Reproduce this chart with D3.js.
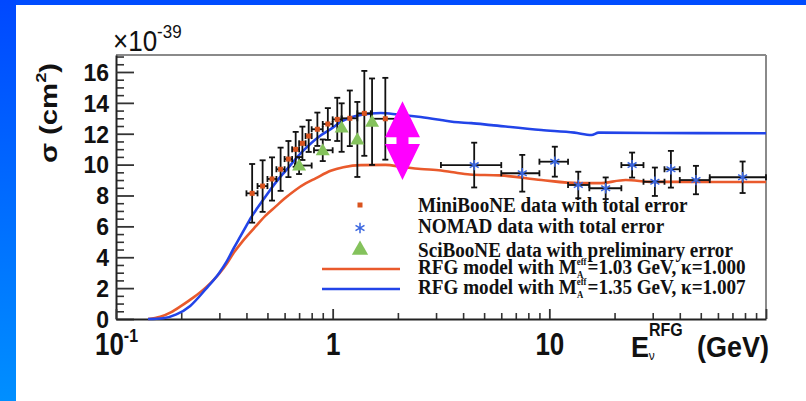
<!DOCTYPE html>
<html><head><meta charset="utf-8">
<script src="https://cdn.jsdelivr.net/npm/d3@7"></script>
<style>
html,body{margin:0;padding:0;background:#fff;}
svg{display:block;}
</style></head><body>
<svg id="chart" width="806" height="401"></svg>
<script>
// ---- MiniBooNE CCQE cross section (x10^-39 cm^2) ----
const miniE     = [0.425,0.475,0.525,0.575,0.625,0.675,0.725,0.775,0.85,0.95,1.05,1.2,1.4,1.75];
const miniLo    = [0.40,0.45,0.50,0.55,0.60,0.65,0.70,0.75,0.80,0.90,1.00,1.10,1.30,1.50];
const miniHi    = [0.45,0.50,0.55,0.60,0.65,0.70,0.75,0.80,0.90,1.00,1.10,1.30,1.50,2.00];
const miniSigma = [8.14,8.61,9.07,9.70,10.36,10.99,11.38,11.85,12.29,12.63,12.93,13.00,13.32,12.97];
const miniErr   = [1.90,1.67,1.40,1.40,1.17,1.13,1.08,1.03,1.08,1.03,1.40,1.80,2.75,2.65];

// ---- NOMAD ----
const nomadE     = [4.5,7.5,10.6,13.6,18.2,24.1,30.7,36.4,47.5,78];
const nomadLo    = [3.16,6.0,9.0,12.2,15.3,21.5,27.2,34.0,40.0,55.0];
const nomadHi    = [6.0,9.0,12.2,15.3,21.5,27.2,34.0,40.0,55.0,100];
const nomadSigma = [9.97,9.44,10.19,8.68,8.47,9.97,8.89,9.70,9.00,9.18];
const nomadErr   = [1.45,1.19,0.97,0.86,0.70,0.81,0.92,1.19,0.92,1.02];

// ---- SciBooNE (preliminary) ----
const sciE     = [0.70,0.90,1.10,1.30,1.52];
const sciLo    = [0.67,0.82,1.10,1.30,1.52];
const sciHi    = [0.80,1.00,1.10,1.30,1.52];
const sciSigma = [9.94,10.93,12.40,11.63,12.78];
const sciErr   = [0.55,0.70,1.57,2.43,2.80];

// ---- RFG model, MA = 1.03 GeV, kappa = 1.000 ----
const rfg103E = [0.1406,0.16,0.18,0.20,0.228,0.26,0.30,0.325,0.35,0.382,0.41,0.44,0.49,0.545,0.60,0.674,0.75,0.834,0.979,1.12,1.35,1.75,2.1,2.55,3.16,3.6,4.3,5.9,9.2,13.6,17,22.5,30,45,70,100];
const rfg103S = [0,0.15,0.45,0.85,1.40,2.05,2.95,3.60,4.30,5.00,5.50,5.98,6.70,7.28,7.80,8.36,8.78,9.11,9.60,9.83,9.97,9.98,9.85,9.72,9.62,9.50,9.36,9.30,9.00,8.80,8.80,9.00,8.88,8.88,8.87,8.87];

// ---- RFG model, MA = 1.35 GeV, kappa = 1.007 ----
const rfg135E = [0.1406,0.165,0.19,0.22,0.26,0.30,0.325,0.35,0.375,0.40,0.417,0.45,0.505,0.55,0.606,0.724,0.864,0.979,1.1,1.348,1.67,1.99,2.55,3.16,3.63,4.36,5.39,9.18,13.06,15.65,16.9,30,100];
const rfg135S = [0,0.05,0.30,0.85,1.95,3.00,3.75,4.60,5.35,6.05,6.50,7.20,8.20,8.90,9.59,10.84,11.81,12.30,12.80,13.21,13.34,13.25,13.08,12.89,12.76,12.69,12.56,12.24,12.07,11.92,12.07,12.05,12.03];

// ---- axis ticks ----
const xMajor = [0.1,1,10,100];
const xLabels = ["10", "1", "10"];
const yMajor = [0,2,4,6,8,10,12,14,16];

// ---- magenta arrow: gap between the two models near the peak ----
const arrowE = 2.1, arrowTop = 14.1, arrowBottom = 9.0;

const svg = d3.select("#chart");
const W = 806, H = 401;
const sans = "Liberation Sans, Arial, sans-serif";

// slide background
const defs = svg.append("defs");
const grad = defs.append("linearGradient").attr("id","side").attr("x1",0).attr("y1",0).attr("x2",0).attr("y2",1);
grad.append("stop").attr("offset","0%").attr("stop-color","#0048ff");
grad.append("stop").attr("offset","100%").attr("stop-color","#008fff");
svg.append("rect").attr("width",W).attr("height",H).attr("fill","#fff");
svg.append("rect").attr("x",0).attr("y",0).attr("width",W).attr("height",5).attr("fill","#004cff");
svg.append("rect").attr("x",0).attr("y",0).attr("width",16).attr("height",H).attr("fill","url(#side)");

const x = d3.scaleLog().domain([0.1,100]).range([116,766]);
const y = d3.scaleLinear().domain([0,17.1]).range([319,55]);

// frame
svg.append("line").attr("x1",116).attr("x2",766).attr("y1",55).attr("y2",55).attr("stroke","#8a8a8a").attr("stroke-width",2);
svg.append("line").attr("x1",766).attr("x2",766).attr("y1",55).attr("y2",319).attr("stroke","#8a8a8a").attr("stroke-width",2);

// minor ticks
const yMinor = d3.range(0,17.01,0.5).filter(v => v % 2 !== 0);
svg.append("g").attr("transform","translate(116,0)")
  .call(d3.axisLeft(y).tickValues(yMinor).tickSize(-8).tickFormat(""))
  .call(g => g.select(".domain").remove())
  .selectAll("line").attr("stroke","#333").attr("stroke-width",1.6);
const xMinor = [];
[0.1,1,10].forEach(d => { for (let k=2;k<=9;k++) xMinor.push(d*k); });
svg.append("g").attr("transform","translate(0,319)")
  .call(d3.axisBottom(x).tickValues(xMinor).tickSize(-6).tickFormat(""))
  .call(g => g.select(".domain").remove())
  .selectAll("line").attr("stroke","#333").attr("stroke-width",1.6);

// major y axis
const gy = svg.append("g").attr("transform","translate(116,0)")
  .call(d3.axisLeft(y).tickValues(yMajor).tickSizeInner(-18).tickSizeOuter(0).tickPadding(7).tickFormat(d3.format("d")));
gy.select(".domain").attr("stroke","#222").attr("stroke-width",2);
gy.selectAll("line").attr("stroke","#333").attr("stroke-width",1.8);
gy.selectAll("text").attr("font-family",sans).attr("font-size",23).attr("font-weight","bold").attr("fill","#111").attr("dy","0.36em");

// major x axis
const gx = svg.append("g").attr("transform","translate(0,319)")
  .call(d3.axisBottom(x).tickValues(xMajor).tickSizeInner(-10).tickSizeOuter(0).tickPadding(12)
        .tickFormat((d,i) => i < xLabels.length ? xLabels[i] : ""));
gx.select(".domain").attr("stroke","#222").attr("stroke-width",2);
gx.selectAll("line").attr("stroke","#333").attr("stroke-width",1.8);
gx.selectAll("text").attr("font-family",sans).attr("font-size",26).attr("font-weight","bold").attr("fill","#111")
  .attr("transform","scale(1,1.18)");
gx.selectAll(".tick").filter(d => d === 0.1).select("text")
  .append("tspan").attr("font-size",16).attr("dy","-0.7em").text("-1");

// axis titles
const ttl = svg.append("g").attr("font-family",sans).attr("fill","#111");
const yt = ttl.append("text").attr("transform","translate(57,113) rotate(-90) scale(1.22,1)").attr("text-anchor","middle")
  .attr("font-size",24).attr("font-weight","bold");
yt.append("tspan").text("σ (cm");
yt.append("tspan").attr("font-size",15).attr("dy","-0.75em").text("2");
yt.append("tspan").attr("dy","0.48em").text(")");

const mult = ttl.append("text").attr("transform","translate(113,51) scale(1,1.1)").attr("font-size",26);
mult.append("tspan").text("×10");
mult.append("tspan").attr("font-size",17).attr("dy","-0.72em").text("-39");

const xt = ttl.append("text").attr("transform","translate(631,357) scale(1,1.12)").attr("font-size",27).attr("font-weight","bold");
xt.append("tspan").text("E");
xt.append("tspan").attr("font-size",16).attr("dy","-19").text("RFG");
xt.append("tspan").attr("font-size",12).attr("font-weight","normal").attr("dx","-34").attr("dy","22").text("ν");
xt.append("tspan").attr("font-size",27).attr("x",66).attr("dy","-3").text("(GeV)");

// model curves
const line = d3.line().x(d => x(d[0])).y(d => y(d[1])).curve(d3.curveMonotoneX);
const redC = "#e95a2c", blueC = "#2244e8";
svg.append("path").datum(d3.zip(rfg103E, rfg103S)).attr("d", line)
  .attr("fill","none").attr("stroke",redC).attr("stroke-width",2.6);
svg.append("path").datum(d3.zip(rfg135E, rfg135S)).attr("d", line)
  .attr("fill","none").attr("stroke",blueC).attr("stroke-width",2.6);

// error bars
function errorBars(E, lo, hi, S, err, cls) {
  const g = svg.append("g").attr("class",cls).attr("stroke","#111").attr("stroke-width",1.8);
  E.forEach((e,i) => {
    const cx = x(e), t = y(S[i]+err[i]), b = y(S[i]-err[i]);
    g.append("line").attr("x1",cx).attr("x2",cx).attr("y1",t).attr("y2",b);
    g.append("line").attr("x1",cx-3).attr("x2",cx+3).attr("y1",t).attr("y2",t);
    g.append("line").attr("x1",cx-3).attr("x2",cx+3).attr("y1",b).attr("y2",b);
    if (lo[i] !== hi[i]) {
      g.append("line").attr("x1",x(lo[i])).attr("x2",x(hi[i])).attr("y1",y(S[i])).attr("y2",y(S[i]));
      g.append("line").attr("x1",x(lo[i])).attr("x2",x(lo[i])).attr("y1",y(S[i])-3).attr("y2",y(S[i])+3);
      g.append("line").attr("x1",x(hi[i])).attr("x2",x(hi[i])).attr("y1",y(S[i])-3).attr("y2",y(S[i])+3);
    }
  });
}
errorBars(nomadE, nomadLo, nomadHi, nomadSigma, nomadErr, "nomad");
errorBars(miniE, miniLo, miniHi, miniSigma, miniErr, "mini");
errorBars(sciE, sciLo, sciHi, sciSigma, sciErr, "sci");

// markers
const miniC = "#d9531e", nomadC = "#3a66e0", sciC = "#84c25c";
const ast = d3.symbol().type(d3.symbolAsterisk).size(75);
const tri = d3.symbol().type(d3.symbolTriangle).size(85);
svg.append("g").selectAll("rect").data(d3.zip(miniE, miniSigma)).join("rect")
  .attr("x",d => x(d[0])-2.5).attr("y",d => y(d[1])-2.5).attr("width",5).attr("height",5).attr("fill",miniC);
svg.append("g").selectAll("path").data(d3.zip(nomadE, nomadSigma)).join("path")
  .attr("d",ast).attr("transform",d => `translate(${x(d[0])},${y(d[1])})`)
  .attr("fill","none").attr("stroke",nomadC).attr("stroke-width",1.5);
svg.append("g").selectAll("path").data(d3.zip(sciE, sciSigma)).join("path")
  .attr("d",tri).attr("transform",d => `translate(${x(d[0])},${y(d[1])+1})`)
  .attr("fill",sciC);

// legend
const leg = svg.append("g");
leg.append("rect").attr("x",357.5).attr("y",202.5).attr("width",5).attr("height",5).attr("fill",miniC);
leg.append("path").attr("d",ast).attr("transform","translate(360,228)").attr("fill","none").attr("stroke",nomadC).attr("stroke-width",1.5);
leg.append("path").attr("d",d3.symbol().type(d3.symbolTriangle).size(115)).attr("transform","translate(360,250)").attr("fill",sciC);
leg.append("line").attr("x1",322).attr("x2",400).attr("y1",269).attr("y2",269).attr("stroke",redC).attr("stroke-width",2.6);
leg.append("line").attr("x1",322).attr("x2",400).attr("y1",289).attr("y2",289).attr("stroke",blueC).attr("stroke-width",2.6);

// legend text, set slightly condensed
const legText = leg.append("g").attr("transform","translate(418,0) scale(0.87,1)")
  .attr("font-family","Liberation Serif, Times New Roman, serif").attr("font-weight","bold")
  .attr("font-size",22).attr("fill","#111");
const legRows = [
  {y:212, label:"MiniBooNE data with total error"},
  {y:233, label:"NOMAD data with total error"},
  {y:257, label:"SciBooNE data with preliminary error"},
];
legRows.forEach(r => legText.append("text").attr("x",0).attr("y",r.y).text(r.label));
function modelRow(yb, ma, kappa) {
  const t = legText.append("text").attr("x",0).attr("y",yb);
  t.append("tspan").text("RFG model with M");
  t.append("tspan").attr("font-size",10).attr("dy",-9).text("eff");
  t.append("tspan").attr("font-size",10).attr("dx",-11).attr("dy",13).text("A");
  t.append("tspan").attr("dx",5).attr("dy",-4).text(`=${ma} GeV, κ=${kappa}`);
}
modelRow(274, "1.03", "1.000");
modelRow(294, "1.35", "1.007");

// arrow marking the spread between the two models
const ax = x(arrowE), aT = y(arrowTop), aB = y(arrowBottom), hw = 17.5, head = 36;
const shaftHalf = 6;
const midTop = aT + head, midBot = aB - head;
const arrowPts = [
  [ax, aT], [ax+hw, midTop], [ax+shaftHalf, midTop], [ax+shaftHalf, midBot], [ax+hw, midBot],
  [ax, aB], [ax-hw, midBot], [ax-shaftHalf, midBot], [ax-shaftHalf, midTop], [ax-hw, midTop]
];
svg.append("path").attr("d", d3.line()(arrowPts) + "Z").attr("fill","#ff00ff");
</script>
</body></html>
